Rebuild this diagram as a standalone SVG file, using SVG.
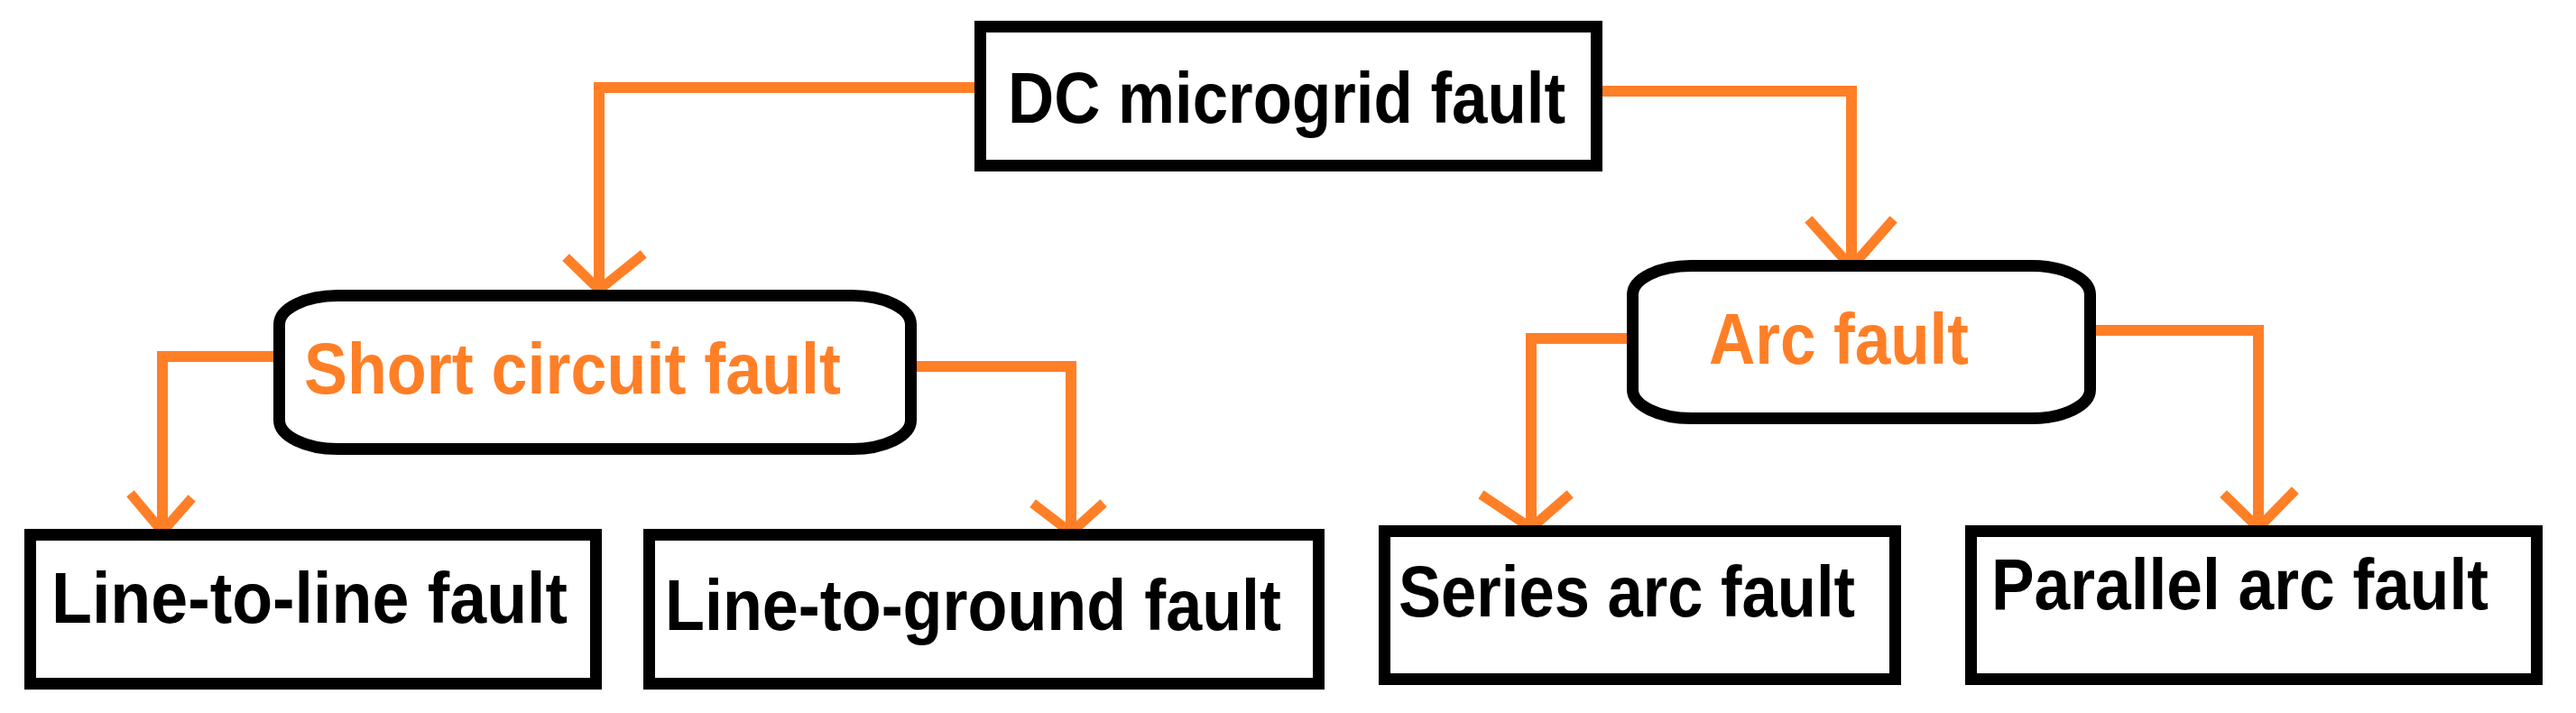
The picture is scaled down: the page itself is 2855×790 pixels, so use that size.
<svg xmlns="http://www.w3.org/2000/svg" width="2855" height="790" viewBox="0 0 2855 790">
<style>
.box{fill:#fff;stroke:#000;stroke-width:13}
.t{font-family:"Liberation Sans",Arial,sans-serif;font-weight:bold;font-size:80px;fill:#000}
.o{fill:#FF7F27}
.ln{fill:none;stroke:#FF7F27;stroke-width:12}
.ah{fill:none;stroke:#FF7F27;stroke-width:11;stroke-linecap:square}
</style>
<rect width="2855" height="790" fill="#fff"/>
<g id="connectors">
<polyline class="ln" points="1082,97 664,97 664,325"/>
<polyline class="ah" points="631,289 664,321 709,285"/>
<polyline class="ln" points="1774,101 2052,101 2052,295"/>
<polyline class="ah" points="2008,247 2052,296 2095,247"/>
<polyline class="ln" points="305,395 180,395 180,592"/>
<polyline class="ah" points="148,551 180,589 209,556"/>
<polyline class="ln" points="1014,406 1187,406 1187,592"/>
<polyline class="ah" points="1149,561 1187,590 1219,561"/>
<polyline class="ln" points="1805,375 1697,375 1697,587"/>
<polyline class="ah" points="1646,551 1697,585 1736,551"/>
<polyline class="ln" points="2321,366 2503,366 2503,587"/>
<polyline class="ah" points="2468,551 2503,585 2540,547"/>
</g>
<g id="dc"><rect class="box" x="1086.5" y="29.5" width="683" height="154"/>
<text class="t" x="1117" y="136" textLength="618" lengthAdjust="spacingAndGlyphs">DC microgrid fault</text></g>
<g id="sc"><rect class="box" x="309.5" y="327.5" width="700" height="170" rx="65" ry="32"/>
<text class="t o" x="337" y="436" textLength="595" lengthAdjust="spacingAndGlyphs">Short circuit fault</text></g>
<g id="arc"><rect class="box" x="1809.5" y="294.5" width="507" height="169" rx="65" ry="32"/>
<text class="t o" x="1894" y="403" textLength="288" lengthAdjust="spacingAndGlyphs">Arc fault</text></g>
<g id="ll"><rect class="box" x="33.5" y="592.5" width="627" height="165"/>
<text class="t" x="57" y="690" textLength="572" lengthAdjust="spacingAndGlyphs">Line-to-line fault</text></g>
<g id="lg"><rect class="box" x="719.5" y="592.5" width="742" height="165"/>
<text class="t" x="737" y="698" textLength="683" lengthAdjust="spacingAndGlyphs">Line-to-ground fault</text></g>
<g id="sa"><rect class="box" x="1534.5" y="588.5" width="566" height="164"/>
<text class="t" x="1550" y="683" textLength="506" lengthAdjust="spacingAndGlyphs">Series arc fault</text></g>
<g id="pa"><rect class="box" x="2184.5" y="588.5" width="627" height="164"/>
<text class="t" x="2207" y="675" textLength="551" lengthAdjust="spacingAndGlyphs">Parallel arc fault</text></g>
</svg>
